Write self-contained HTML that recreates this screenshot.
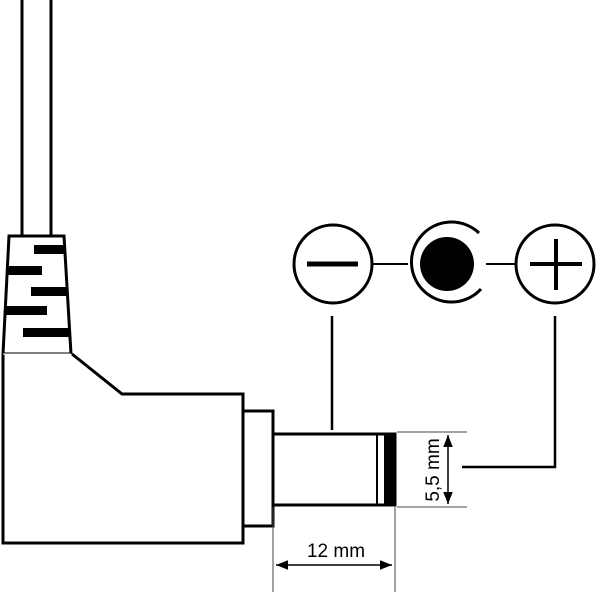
<!DOCTYPE html>
<html><head><meta charset="utf-8"><style>html,body{margin:0;background:#fff}</style></head><body>
<svg width="600" height="600" viewBox="0 0 600 600" xmlns="http://www.w3.org/2000/svg">
<defs>
<marker id="a" viewBox="0 0 10 10" refX="10" refY="5" markerWidth="8" markerHeight="8" orient="auto-start-reverse"><path d="M0,1 L10,5 L0,9 z" fill="#000"/></marker>
</defs>
<g fill="none" stroke="#000" stroke-width="3">
<line x1="22" y1="0" x2="22" y2="236"/>
<line x1="51" y1="0" x2="51" y2="236"/>
<path d="M9,236 L64,236 L71,354 L3,354 Z" fill="#fff"/>
<path d="M3,354 L3,543 L243,543 L243,394 L122,394 L72,354" fill="#fff"/>
<rect x="243" y="411" width="30" height="115" fill="#fff"/>
<rect x="273" y="434" width="122" height="71" fill="#fff"/>
<line x1="377" y1="434" x2="377" y2="505" stroke-width="2"/>
</g>
<rect x="34" y="245" width="31" height="9"/>
<rect x="8" y="266" width="34" height="9"/>
<rect x="31" y="287" width="37" height="9"/>
<rect x="5" y="306" width="42" height="9"/>
<rect x="23" y="328" width="47" height="9"/>
<line x1="3" y1="354" x2="71" y2="354" stroke="#fff" stroke-width="1"/>
<rect x="384" y="434" width="11" height="71"/>
<g stroke="#000" fill="none">
<line x1="372" y1="264" x2="408" y2="264" stroke-width="2"/>
<line x1="486" y1="264" x2="516" y2="264" stroke-width="2"/>
<circle cx="333" cy="264" r="39" stroke-width="3" fill="#fff"/>
<line x1="307" y1="264" x2="358" y2="264" stroke-width="5"/>
<path d="M479,233 A40,40 0 1 0 481,289" stroke-width="3"/>
<circle cx="555" cy="264" r="39" stroke-width="3" fill="#fff"/>
<line x1="530" y1="264" x2="582" y2="264" stroke-width="4"/>
<line x1="556" y1="239" x2="556" y2="290" stroke-width="4"/>
<line x1="332" y1="316" x2="332" y2="430" stroke-width="2.5"/>
<path d="M555,316 L555,467 L462,467" stroke-width="2.5"/>
<g stroke-width="1" stroke="#444">
<line x1="397" y1="432" x2="467" y2="432"/>
<line x1="397" y1="507" x2="467" y2="507"/>
<line x1="273" y1="507" x2="273" y2="592"/>
<line x1="395" y1="507" x2="395" y2="592"/>
</g>
<line x1="448" y1="435" x2="448" y2="504" stroke-width="1.5" marker-start="url(#a)" marker-end="url(#a)"/>
<line x1="276" y1="565" x2="392" y2="565" stroke-width="1.5" marker-start="url(#a)" marker-end="url(#a)"/>
</g>
<circle cx="447" cy="264" r="27" fill="#000"/>
<text x="336" y="557" font-family="Liberation Sans, sans-serif" font-size="19" text-anchor="middle">12 mm</text>
<text transform="translate(439,470) rotate(-90)" font-family="Liberation Sans, sans-serif" font-size="19" text-anchor="middle">5,5 mm</text>
</svg>
</body></html>
